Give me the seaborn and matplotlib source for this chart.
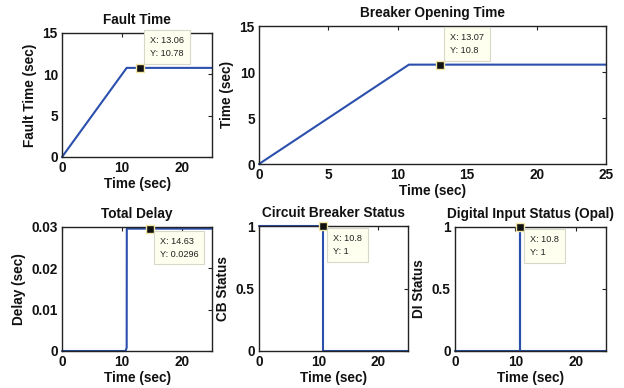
import matplotlib
matplotlib.use("Agg")
import matplotlib.pyplot as plt
import seaborn as sns
import numpy as np

# ---- data ----
fault_t = [0, 10.78, 25]
fault_v = [0, 10.78, 10.78]
breaker_t = [0, 10.8, 25]
breaker_v = [0, 10.8, 10.8]
delay_t = [0, 10.6, 10.78, 10.8, 25]
delay_v = [0, 0, 0.0008, 0.0296, 0.0296]
cb_t = [0, 10.8, 10.8, 25]
cb_v = [1, 1, 0, 0]
di_t = [0, 10.78, 10.78, 10.82, 10.82, 25]
di_v = [0, 0, 1, 1, 0, 0]

titles = ["Fault Time", "Breaker Opening Time", "Total Delay",
          "Circuit Breaker Status", "Digital Input Status (Opal)"]
ylabels = ["Fault Time (sec)", "Time (sec)", "Delay (sec)", "CB Status", "DI Status"]
xlabel = "Time (sec)"

tips = [(13.06, 10.78, "X: 13.06\nY: 10.78", "up"),
        (13.07, 10.8, "X: 13.07\nY: 10.8", "up"),
        (14.63, 0.0296, "X: 14.63\nY: 0.0296", "down"),
        (10.8, 1, "X: 10.8\nY: 1", "down"),
        (10.8, 1, "X: 10.8\nY: 1", "down")]

sns.set_theme(style="white")
plt.rcParams['font.family'] = ['Liberation Sans', 'DejaVu Sans']
plt.rcParams['font.weight'] = 'bold'

W, H = 624, 388
fig = plt.figure(figsize=(W / 100, H / 100), dpi=100)
fig.patch.set_facecolor("white")

def box(l, t, r, b):
    return [l / W, 1 - b / H, (r - l) / W, (b - t) / H]

rects = [box(62, 33, 212, 157), box(259, 26, 606, 164),
         box(62, 227, 212, 351), box(259, 226, 408, 351), box(455, 227, 606, 351)]

series = [(fault_t, fault_v), (breaker_t, breaker_v), (delay_t, delay_v),
          (cb_t, cb_v), (di_t, di_v)]
ylims = [(0, 15), (0, 15), (0, 0.03), (0, 1), (0, 1)]
yticks = [[0, 5, 10, 15], [0, 5, 10, 15], [0, 0.01, 0.02, 0.03], [0, 0.5, 1], [0, 0.5, 1]]
yticklabels = [["0", "5", "10", "15"], ["0", "5", "10", "15"],
               ["0", "0.01", "0.02", "0.03"], ["0", "0.5", "1"], ["0", "0.5", "1"]]
xticks = [[0, 10, 20], [0, 5, 10, 15, 20, 25], [0, 10, 20], [0, 10, 20], [0, 10, 20]]

line_color = "#2b4fad"
fs = 9.8

for i, r in enumerate(rects):
    ax = fig.add_axes(r)
    t, v = series[i]
    sns.lineplot(x=t, y=v, ax=ax, estimator=None, sort=False, color=line_color,
                 lw=1.5, clip_on=False)
    ax.set_xlim(0, 25)
    ax.set_ylim(*ylims[i])
    ax.set_xticks(xticks[i])
    ax.set_xticklabels([str(x) for x in xticks[i]], fontsize=fs, fontweight='bold')
    ax.set_yticks(yticks[i])
    ax.set_yticklabels(yticklabels[i], fontsize=fs, fontweight='bold')
    ax.tick_params(direction='in', top=True, right=True, length=3, width=0.8,
                   color='#222222', pad=3, labelcolor='#111111')
    for s in ax.spines.values():
        s.set_visible(True)
        s.set_color('#222222')
        s.set_linewidth(1.0)
    ax.set_title(titles[i], fontsize=fs, fontweight='bold', pad=6.5, color='#111111')
    ax.set_xlabel(xlabel, fontsize=fs, fontweight='bold', labelpad=1.5, color='#111111')
    ax.set_ylabel(ylabels[i], fontsize=fs, fontweight='bold', labelpad=4, color='#111111')

    tx, ty, txt, d = tips[i]
    ax.plot([tx], [ty], 's', ms=6, mfc='#111111', mec='#f2e6a6', mew=1.0,
            zorder=6, clip_on=False)
    if d == "up":
        off = (10, 10)
        va = 'bottom'
    else:
        off = (10, -8)
        va = 'top'
    ax.annotate(txt, xy=(tx, ty), xytext=(off[0] * 0.72, off[1] * 0.72),
                textcoords='offset points', ha='left', va=va, fontsize=6.6,
                fontweight='normal', color='#222222', linespacing=1.55,
                bbox=dict(boxstyle='square,pad=0.65', fc='#fffff0', ec='#d8d8c8', lw=0.8),
                zorder=7, annotation_clip=False)

fig.savefig("out.png", dpi=100)
